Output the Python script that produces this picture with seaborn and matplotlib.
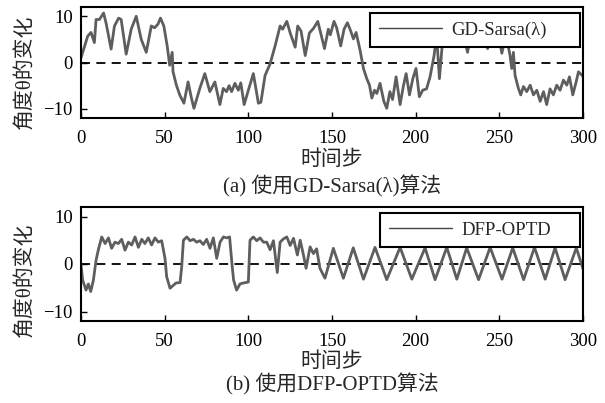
import numpy as np
import pandas as pd
import matplotlib
matplotlib.use("Agg")
import matplotlib.pyplot as plt
import seaborn as sns

# ---- data (vertices) ----
top_x = [0, 4, 6, 8, 9, 11, 13.5, 15, 18, 20, 22.5, 24, 27, 30, 33, 36, 39, 42, 44, 46,
         47.5, 49.5, 51.5, 53, 54.5, 55, 57, 59, 61.5, 64, 66, 67.5, 71, 74, 77, 80, 83, 85,
         87, 88.5, 90, 92, 94, 95.5, 97.5, 100, 103, 106, 107.5, 110, 113, 116, 119, 120.5,
         123, 125, 128, 129.5, 131.5, 134, 136.5, 139, 141.5, 143.5, 145.5, 147.8, 149,
         151.2, 152.8, 155.2, 157.2, 159.2, 161.2, 162.8, 164.4, 166.8, 168.8, 170.8, 172.4,
         173.8, 175.4, 176.8, 178.7, 181, 182.7, 184.6, 186.2, 188.3, 190.7, 192.7, 194.3,
         196.3, 198.3, 200.2, 202.2, 204.2, 206.5, 208.6, 211, 212.5, 214.2, 216.5, 219,
         222, 225, 228, 231, 234, 237, 240, 243, 246, 249, 251.5, 254, 256.4, 257.4, 258.4,
         259.4, 261.4, 262.8, 264.4, 266.4, 268.4, 270.4, 272.4, 274.4, 276.4, 278.3, 280.3,
         282.3, 284.3, 286.3, 288.3, 290.3, 291.9, 293.9, 295.9, 297.3, 300]
top_y = [1.0, 5.7, 6.5, 4.3, 9.3, 9.3, 10.7, 8.5, 2.9, 7.9, 9.6, 9.3, 1.8, 7.2, 10.0, 5.0,
         2.2, 7.9, 7.5, 8.3, 9.6, 7.9, 3.6, -0.6, 2.2, -2.0, -4.9, -7.0, -8.8, -4.2, -7.7,
         -9.9, -5.6, -2.4, -6.3, -4.2, -9.1, -5.6, -6.3, -5.0, -6.3, -4.5, -6.0, -4.4, -9.1,
         -6.0, -2.4, -8.8, -8.6, -2.8, -0.3, 3.6, 7.9, 7.2, 8.9, 6.4, 3.3, 7.9, 6.8, 1.5, 6.4,
         7.4, 8.9, 6.0, 3.0, 7.2, 6.0, 8.9, 7.5, 3.6, 7.2, 8.6, 6.8, 5.1, 6.5, 2.6, -1.3,
         -3.5, -4.9, -7.7, -6.0, -6.7, -4.5, -8.4, -9.9, -6.3, -8.0, -3.1, -9.1, -5.0, -2.4,
         -7.0, -3.5, -1.3, -7.4, -6.0, -5.7, -3.1, 1.5, 6.0, -3.5, 6.5, 8.5, 6.0, 9.0, 7.0,
         2.2, 8.0, 9.5, 6.5, 3.0, 8.0, 7.0, 2.0, 6.0, 1.5, -1.3, 2.2, -2.8, -5.6, -7.0, -5.2,
         -6.3, -4.9, -7.0, -6.0, -8.4, -6.3, -9.1, -5.7, -7.0, -4.9, -6.0, -3.8, -4.9, -3.1,
         -7.0, -4.2, -2.0, -3.0]

bot_x = [0, 1, 3, 4.4, 5.8, 7.4, 9, 10.3, 12.4, 14.4, 16.4, 18.3, 20.3, 22.3, 24.3, 26.3,
         28.3, 30.3, 32.3, 34.3, 36.3, 38.2, 40.2, 42.2, 44.2, 46.2, 48.2, 50.2, 51.2, 53.2,
         54.8, 56.8, 59.2, 60.2, 61.2, 63.2, 65.2, 67.2, 69.1, 71.1, 73.1, 75.1, 77.1, 79.1,
         81.1, 83.1, 85.1, 87, 88.8, 90.3, 91.2, 93, 95, 97, 100, 101, 103, 105, 107, 109,
         111, 113, 115, 117.3, 119, 121, 123, 125, 127, 129.3, 131, 133, 134.5, 136.9, 138.9,
         140.8, 142.8, 145.8, 150.8, 156.8, 162.7, 168.8, 175.7, 182.7, 190.7, 197.7, 205.6,
         211.6, 218.6, 224.6, 230.5, 237.6, 244.5, 251.6, 258, 264.5, 271, 277.4, 283.3,
         289.3, 296, 300]
bot_y = [-0.2, -3.4, -5.5, -4.2, -5.8, -3.4, 0.8, 2.9, 5.7, 4.3, 5.5, 3.3, 4.6, 4.3, 5.2,
         2.9, 4.6, 4.0, 5.7, 3.5, 5.2, 4.3, 5.5, 4.0, 5.5, 4.6, 4.9, 1.2, -2.7, -5.1, -4.6,
         -4.0, -3.9, -0.5, 5.0, 5.7, 4.9, 5.2, 4.6, 4.9, 4.1, 5.2, 3.3, 5.5, 1.2, 4.6, 5.7,
         5.5, 5.7, -0.3, -3.4, -5.5, -4.2, -4.0, -3.8, 5.0, 5.7, 4.9, 5.5, 4.6, 4.6, 3.0, 4.9,
         -1.8, 4.6, 5.3, 5.7, 3.9, 5.4, 1.9, 5.0, 1.8, -0.9, 3.6, 2.2, 3.2, -0.9, -3.0, 3.3,
         -3.0, 3.4, -3.2, 3.5, -3.3, 3.5, -3.2, 3.4, -3.3, 3.5, -3.2, 3.4, -3.3, 3.5, -3.2,
         3.4, -3.3, 3.5, -3.2, 3.4, -3.3, 3.4, -1.0]

x_ticks = [0, 50, 100, 150, 200, 250, 300]
y_ticks = [-10, 0, 10]
top_label = "GD-Sarsa(λ)"
bot_label = "DFP-OPTD"
ylabel = "角度θ的变化"
xlabel = "时间步"
cap_a = "(a) 使用GD-Sarsa(λ)算法"
cap_b = "(b) 使用DFP-OPTD算法"

# ---- style ----
sns.set_style("ticks")
plt.rcParams['font.family'] = ['Liberation Serif', 'Noto Sans CJK SC', 'DejaVu Sans']
plt.rcParams['axes.unicode_minus'] = True

fig = plt.figure(figsize=(6.05, 4.03), dpi=100)
ax1 = fig.add_axes([81/605, 1-118/403, 502/605, 111/403])
ax2 = fig.add_axes([81/605, 1-321/403, 502/605, 114/403])

line_color = "#5e5e5e"

def draw(ax, xs, ys, label, box):
    df = pd.DataFrame({"x": xs, "y": ys})
    sns.lineplot(data=df, x="x", y="y", ax=ax, color=line_color, linewidth=2.0,
                 label=label, sort=False, estimator=None)
    ax.axhline(0, color="black", linestyle=(0, (5, 3.5)), linewidth=1.3, zorder=1)
    ax.set_xlim(0, 300)
    ax.set_ylim(-12, 12)
    ax.set_xticks(x_ticks)
    ax.set_yticks(y_ticks)
    ax.set_xlabel("")
    ax.set_ylabel("")
    ax.tick_params(direction="in", length=4, width=1, labelsize=13.5, colors="black",
                   top=False, right=False)
    ax.tick_params(axis="x", pad=8.5)
    ax.tick_params(axis="y", pad=6)
    for s in ax.spines.values():
        s.set_visible(True)
        s.set_color("black")
        s.set_linewidth(1.5)
    leg = ax.legend(loc="upper left", bbox_to_anchor=box, mode="expand", borderaxespad=0,
                    fontsize=13.5, frameon=True, fancybox=False, handlelength=3.4,
                    handletextpad=0.5, borderpad=0.45)
    leg.get_frame().set_edgecolor("black")
    leg.get_frame().set_linewidth(1.5)
    leg.get_frame().set_alpha(1)
    for h in leg.get_lines():
        h.set_linewidth(1.0)
        h.set_color("#444444")
    leg.set_zorder(5)

draw(ax1, top_x, top_y, top_label, (0.576, 0.622, 0.418, 0.324))
draw(ax2, bot_x, bot_y, bot_label, (0.596, 0.640, 0.398, 0.307))

fig.text(332/605, 1-160/403, xlabel, ha="center", va="center", fontsize=15)
fig.text(332/605, 1-186/403, cap_a, ha="center", va="center", fontsize=15)
fig.text(332/605, 1-362/403, xlabel, ha="center", va="center", fontsize=15)
fig.text(332/605, 1-384/403, cap_b, ha="center", va="center", fontsize=15)
fig.text(25/605, 1-72/403, ylabel, ha="center", va="center", rotation=90, fontsize=15)
fig.text(25/605, 1-280/403, ylabel, ha="center", va="center", rotation=90, fontsize=15)

fig.savefig("out.png", dpi=100, facecolor="white")
